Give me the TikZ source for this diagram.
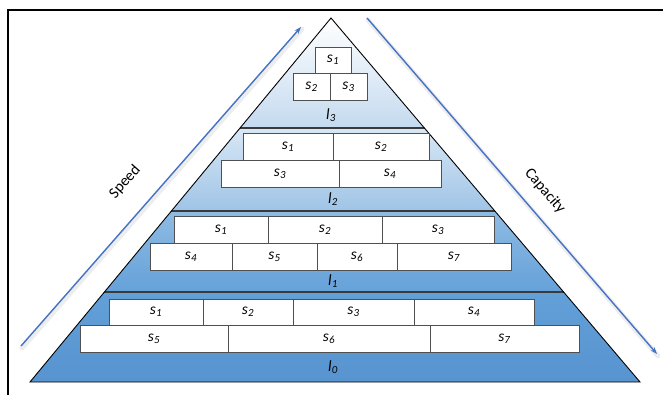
\documentclass[tikz,border=0pt]{standalone}
\usepackage{fontspec}
\setmainfont{Carlito}
\usetikzlibrary{arrows.meta}
\definecolor{arrowblue}{HTML}{4472C4}
\definecolor{boxline}{HTML}{505050}
\definecolor{bandline}{HTML}{3A3A3A}
\definecolor{lthreeb}{HTML}{C4DAEF}
\definecolor{ltwot}{HTML}{D8E7F5}
\definecolor{ltwob}{HTML}{9FC4E6}
\definecolor{lonet}{HTML}{8FBBE3}
\definecolor{loneb}{HTML}{65A1D9}
\definecolor{lzerot}{HTML}{63A0D8}
\definecolor{lzerob}{HTML}{5794D0}
\newcommand\svar[1]{\textit{s}\textsubscript{\textit{#1}}}
\newcommand\lvar[1]{\textit{l}\textsubscript{\textit{#1}}}
\newcommand\mkcell[6]{%
  \node[cellbox, minimum width={(#4-#2)*1pt}, minimum height={(#5-#3)*1pt}]
    (#1) at ({(#2+#4)/2},{(#3+#5)/2}) {#6};}
\tikzset{
  cellbox/.style={draw=boxline, line width=0.8pt, fill=white, inner sep=0pt, outer sep=0pt,
    font=\fontsize{15.5}{17}\selectfont},
  lvlabel/.style={inner sep=0pt, font=\fontsize{15.5}{17}\selectfont},
  axislabel/.style={inner sep=0pt, font=\fontsize{15.5}{17}\selectfont},
  axisarrow/.style={draw=arrowblue, line width=1.4pt, -{Stealth[length=7pt,width=5pt]}},
  axisglow/.style={draw=black!7, line width=5pt, line cap=round},
  bandsep/.style={draw=bandline, line width=1.2pt}
}
\begin{document}
\begin{tikzpicture}[x=1pt,y=-1pt]
\useasboundingbox (0,0) rectangle (663,395);
% frame
\draw[line width=2pt] (8,396) -- (8,10) -- (664,10);
% triangle corners
\coordinate (apex) at (331,18);
\coordinate (bl) at (30,382);
\coordinate (br) at (640,382);
% bands
\begin{scope}
\clip (apex) -- (br) -- (bl) -- cycle;
\shade[top color=white, bottom color=lthreeb] (0,18) rectangle (663,128);
\shade[top color=ltwot, bottom color=ltwob] (0,128) rectangle (663,211);
\shade[top color=lonet, bottom color=loneb] (0,211) rectangle (663,292);
\shade[top color=lzerot, bottom color=lzerob] (0,292) rectangle (663,382);
\draw[bandsep] (0,128) -- (663,128);
\draw[bandsep] (0,211) -- (663,211);
\draw[bandsep] (0,292) -- (663,292);
\end{scope}
\draw[line width=0.9pt, line join=miter] (apex) -- (br) -- (bl) -- cycle;
% level 3
\mkcell{a1}{315}{47}{351}{73}{\svar{1}}
\mkcell{a2}{293}{73}{330}{100}{\svar{2}}
\mkcell{a3}{330}{73}{367}{100}{\svar{3}}
\node[lvlabel] (l3) at (331,115) {\lvar{3}};
% level 2
\mkcell{b1}{243}{133}{333}{160}{\svar{1}}
\mkcell{b2}{333}{133}{429}{160}{\svar{2}}
\mkcell{b3}{221}{160}{339}{187}{\svar{3}}
\mkcell{b4}{339}{160}{441}{187}{\svar{4}}
\node[lvlabel] (l2) at (333,199) {\lvar{2}};
% level 1
\mkcell{c1}{174}{216}{268}{243}{\svar{1}}
\mkcell{c2}{268}{216}{382}{243}{\svar{2}}
\mkcell{c3}{382}{216}{494}{243}{\svar{3}}
\mkcell{c4}{150}{243}{232}{270}{\svar{4}}
\mkcell{c5}{232}{243}{317}{270}{\svar{5}}
\mkcell{c6}{317}{243}{397}{270}{\svar{6}}
\mkcell{c7}{397}{243}{511}{270}{\svar{7}}
\node[lvlabel] (l1) at (333,281) {\lvar{1}};
% level 0
\mkcell{d1}{109}{299}{203}{325}{\svar{1}}
\mkcell{d2}{203}{299}{293}{325}{\svar{2}}
\mkcell{d3}{293}{299}{414}{325}{\svar{3}}
\mkcell{d4}{414}{299}{534}{325}{\svar{4}}
\mkcell{d5}{80}{325}{228}{352}{\svar{5}}
\mkcell{d6}{228}{325}{430}{352}{\svar{6}}
\mkcell{d7}{430}{325}{579}{352}{\svar{7}}
\node[lvlabel] (l0) at (333,367) {\lvar{0}};
% axes
\coordinate (sp0) at (21,346);
\coordinate (sp1) at (301,27);
\coordinate (ca0) at (367,18);
\coordinate (ca1) at (657,354);
\draw[axisglow] ([shift={(1,2)}]sp0) -- ([shift={(1,2)}]sp1);
\draw[axisglow] ([shift={(1,2)}]ca0) -- ([shift={(1,2)}]ca1);
\draw[axisarrow] (sp0) -- (sp1);
\draw[axisarrow] (ca0) -- (ca1);
\node[axislabel, rotate=48.7] (speed) at (125,182) {Speed};
\node[axislabel, rotate=-49.4] (cap) at (545,191) {Capacity};
\end{tikzpicture}
\end{document}
